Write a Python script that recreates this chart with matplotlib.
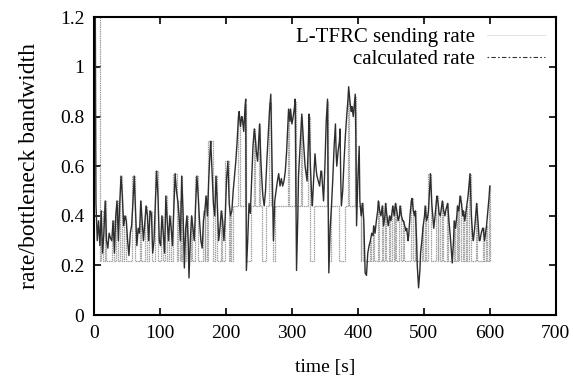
import matplotlib
matplotlib.use("Agg")
import matplotlib.pyplot as plt
from matplotlib.lines import Line2D

plt.rcParams['font.family'] = ['Liberation Serif', 'DejaVu Serif']

# L-TFRC sending rate (time [s], rate/bottleneck bandwidth)
send_t = [0, 1, 2, 3, 5, 7, 9, 11, 13, 15, 17, 19, 21, 23, 25, 27, 29, 31, 33, 35,
          37, 39, 41, 43, 45, 47, 49, 51, 53, 55, 57, 59, 61, 63, 65, 67, 69, 71, 73, 75,
          77, 79, 81, 83, 85, 87, 89, 91, 93, 95, 97, 99, 101, 103, 105, 107, 109, 111, 113, 115,
          117, 119, 121, 123, 125, 127, 129, 131, 133, 135, 137, 139, 141, 143, 144, 146, 148, 150, 152, 154,
          156, 158, 160, 162, 164, 166, 168, 170, 172, 174, 176, 177, 179, 181, 183, 185, 187, 189, 191, 193,
          195, 197, 199, 201, 203, 205, 207, 209,
          211, 213, 215, 217, 219, 220, 222, 224, 225, 227, 229, 230, 231, 233, 235, 237, 239, 241, 243, 245,
          246, 248, 250, 251, 253, 255, 256, 258, 260, 262, 264, 266, 268, 270, 271, 272, 274, 276, 278, 280,
          282, 284, 286, 288, 290, 292, 293, 295, 297, 298, 300, 302, 304, 305, 306, 307, 309, 310, 312, 314,
          315, 317, 318, 320, 322, 323, 325, 326, 328, 330, 331, 333, 335, 337, 338, 340, 342, 344, 345, 347,
          348, 350, 352, 354, 355, 356, 358, 360, 362, 364, 366, 367, 368, 370, 372, 373, 374, 375, 377, 379,
          381, 383, 385, 386, 388, 390, 391, 393, 395, 396, 397, 398, 400, 402, 403,
          405, 407, 409, 411, 413, 415, 417, 419, 421, 423, 424, 426, 428, 430, 431, 433, 435, 437, 439, 441,
          442, 444, 446, 448, 450, 452, 453, 455, 457, 459, 461, 463, 464, 466, 468, 469, 471, 473, 474, 476,
          477, 479, 481, 482, 484, 486, 487, 489, 490, 492, 494, 495, 497, 499, 501, 502, 504, 506, 507, 509,
          510, 512, 514, 515, 517, 519, 520, 522, 523, 525, 527, 528, 530, 532, 533, 535, 536, 538, 540, 542,
          543, 545, 546, 548, 550, 551, 553, 555, 557, 559, 560, 562, 564, 565, 567, 569, 570, 572, 574, 575,
          577, 579, 580, 582, 584, 585, 587, 589, 590, 592, 594, 595, 597, 599, 600]
send_v = [0.20, 1.25, 1.25, 0.45, 0.30, 0.38, 0.28, 0.42, 0.25, 0.33, 0.46, 0.30, 0.27, 0.33, 0.31, 0.30, 0.38, 0.25, 0.40, 0.46,
          0.30, 0.45, 0.56, 0.48, 0.36, 0.40, 0.38, 0.30, 0.24, 0.33, 0.36, 0.45, 0.56, 0.42, 0.28, 0.35, 0.33, 0.46, 0.38, 0.30,
          0.37, 0.44, 0.40, 0.30, 0.42, 0.41, 0.25, 0.30, 0.45, 0.58, 0.48, 0.30, 0.28, 0.40, 0.33, 0.25, 0.48, 0.38, 0.30, 0.40,
          0.35, 0.28, 0.42, 0.57, 0.50, 0.46, 0.40, 0.30, 0.56, 0.42, 0.19, 0.35, 0.40, 0.28, 0.15, 0.30, 0.40, 0.35, 0.30, 0.44,
          0.56, 0.48, 0.38, 0.30, 0.27, 0.38, 0.42, 0.48, 0.40, 0.55, 0.66, 0.70, 0.58, 0.45, 0.40, 0.56, 0.44, 0.30, 0.35, 0.42,
          0.38, 0.30, 0.40, 0.55, 0.62, 0.45, 0.40, 0.42,
          0.50, 0.56, 0.62, 0.70, 0.80, 0.82, 0.76, 0.80, 0.79, 0.74, 0.84, 0.87, 0.18, 0.30, 0.45, 0.41, 0.55, 0.68, 0.75, 0.70,
          0.66, 0.62, 0.72, 0.77, 0.62, 0.52, 0.48, 0.44, 0.50, 0.62, 0.72, 0.82, 0.89, 0.60, 0.44, 0.30, 0.46, 0.50, 0.54, 0.57,
          0.52, 0.55, 0.52, 0.54, 0.58, 0.66, 0.72, 0.83, 0.78, 0.83, 0.77, 0.80, 0.84, 0.87, 0.50, 0.18, 0.40, 0.56, 0.66, 0.76,
          0.81, 0.72, 0.68, 0.60, 0.56, 0.54, 0.70, 0.81, 0.60, 0.48, 0.44, 0.55, 0.65, 0.58, 0.56, 0.54, 0.52, 0.58, 0.58, 0.50,
          0.46, 0.60, 0.78, 0.87, 0.45, 0.17, 0.35, 0.44, 0.55, 0.68, 0.77, 0.66, 0.60, 0.66, 0.70, 0.75, 0.55, 0.44, 0.50, 0.62,
          0.72, 0.80, 0.87, 0.92, 0.86, 0.82, 0.84, 0.80, 0.86, 0.89, 0.70, 0.36, 0.55, 0.68, 0.46,
          0.40, 0.45, 0.38, 0.17, 0.16, 0.25, 0.28, 0.30, 0.33, 0.32, 0.36, 0.33, 0.38, 0.42, 0.46, 0.42, 0.40, 0.44, 0.36, 0.40,
          0.45, 0.40, 0.36, 0.40, 0.38, 0.42, 0.44, 0.40, 0.45, 0.42, 0.38, 0.40, 0.44, 0.40, 0.38, 0.38, 0.36, 0.34, 0.35, 0.30,
          0.32, 0.40, 0.46, 0.47, 0.42, 0.40, 0.42, 0.30, 0.20, 0.11, 0.18, 0.25, 0.30, 0.36, 0.40, 0.44, 0.38, 0.40, 0.42, 0.52,
          0.57, 0.45, 0.38, 0.35, 0.40, 0.46, 0.48, 0.44, 0.41, 0.40, 0.44, 0.46, 0.42, 0.40, 0.42, 0.44, 0.45, 0.38, 0.32, 0.25,
          0.21, 0.30, 0.38, 0.35, 0.40, 0.44, 0.42, 0.48, 0.45, 0.40, 0.42, 0.38, 0.42, 0.44, 0.48, 0.54, 0.57, 0.40, 0.32, 0.30,
          0.35, 0.42, 0.45, 0.38, 0.30, 0.30, 0.33, 0.35, 0.35, 0.30, 0.34, 0.36, 0.42, 0.48, 0.52]

# calculated rate, step points (value holds until next time)
calc_t = [0, 9, 11, 13, 16, 18, 28, 30, 33, 36, 39, 43, 46, 48, 58, 62, 70, 72, 78, 80,
          84, 88, 92, 97, 102, 104, 108, 110, 114, 116, 120, 126, 128, 130, 132, 134, 140, 142, 147, 149,
          153, 158, 165, 168, 169, 171, 173, 180, 184, 186, 192, 194, 198, 204, 206, 208,
          210, 219, 222, 229, 231, 238, 242, 244, 250, 252, 255, 261, 266, 269, 271, 275, 294, 296, 304, 306,
          314, 316, 325, 327, 328, 334, 353, 355, 360, 372, 380, 385, 387, 395, 397, 404,
          405, 408, 418, 420, 423, 425, 430, 432, 436, 438, 441, 443, 447, 449, 452, 454, 456, 458, 463, 465,
          468, 470, 481, 483, 486, 488, 497, 499, 501, 503, 506, 511, 519, 521, 522, 524, 527, 529, 535, 537,
          545, 547, 550, 552, 554, 556, 559, 561, 564, 566, 568, 571, 579, 581, 589, 591, 594, 596, 598, 601]
calc_v = [1.30, 0.22, 0.42, 0.22, 0.46, 0.22, 0.38, 0.22, 0.46, 0.22, 0.56, 0.22, 0.40, 0.22, 0.56, 0.22, 0.46, 0.22, 0.44, 0.22,
          0.42, 0.22, 0.58, 0.22, 0.40, 0.22, 0.48, 0.22, 0.40, 0.22, 0.57, 0.22, 0.46, 0.22, 0.56, 0.22, 0.40, 0.22, 0.40, 0.22,
          0.56, 0.22, 0.42, 0.22, 0.48, 0.22, 0.70, 0.22, 0.56, 0.22, 0.42, 0.22, 0.62, 0.22, 0.40, 0.22,
          0.44, 0.80, 0.44, 0.85, 0.22, 0.44, 0.75, 0.44, 0.77, 0.44, 0.22, 0.44, 0.86, 0.44, 0.22, 0.44, 0.83, 0.44, 0.86, 0.44,
          0.80, 0.44, 0.80, 0.44, 0.22, 0.44, 0.86, 0.22, 0.44, 0.22, 0.44, 0.90, 0.44, 0.88, 0.44, 0.22,
          0.45, 0.22, 0.30, 0.22, 0.36, 0.22, 0.46, 0.22, 0.44, 0.22, 0.45, 0.22, 0.40, 0.22, 0.44, 0.22, 0.45, 0.22, 0.44, 0.22,
          0.38, 0.22, 0.47, 0.22, 0.42, 0.22, 0.36, 0.22, 0.44, 0.22, 0.57, 0.22, 0.48, 0.22, 0.41, 0.22, 0.46, 0.22, 0.45, 0.22,
          0.38, 0.22, 0.44, 0.22, 0.48, 0.22, 0.42, 0.22, 0.44, 0.22, 0.57, 0.22, 0.45, 0.22, 0.35, 0.22, 0.36, 0.22, 0.52, 0.22]

x_ticks = [0, 100, 200, 300, 400, 500, 600, 700]
y_ticks = [0, 0.2, 0.4, 0.6, 0.8, 1.0, 1.2]
y_labels = ['0', '0.2', '0.4', '0.6', '0.8', '1', '1.2']

fig = plt.figure(figsize=(5.73, 3.82), dpi=100)
ax = fig.add_axes([0.164, 0.175, 0.806, 0.78])

ax.plot(calc_t, calc_v, drawstyle='steps-post', color='#a0a0a0', lw=0.9,
        linestyle=(0, (1.2, 0.6)))
ax.plot(send_t, send_v, color='#2e2e2e', lw=1.0)

ax.set_xlim(0, 700)
ax.set_ylim(0, 1.2)
ax.set_xticks(x_ticks)
ax.set_yticks(y_ticks)
ax.set_yticklabels(y_labels)
ax.tick_params(direction='in', length=5, width=1.2, top=True, right=True,
               labelsize=14, pad=7)
for s in ax.spines.values():
    s.set_linewidth(1.5)

ax.set_xlabel('time [s]', fontsize=14, labelpad=12)
ax.set_ylabel('rate/bottleneck bandwidth', fontsize=17, labelpad=14)

handles = [Line2D([], [], color='#dddddd', lw=0.6),
           Line2D([], [], color='#333333', lw=0.8, linestyle=(0, (1.5, 2, 4, 2)))]
ax.legend(handles, ['L-TFRC sending rate', 'calculated rate'], loc='upper right',
          markerfirst=False, frameon=False, fontsize=15, handlelength=2.8,
          borderaxespad=0.1, labelspacing=0.1, handletextpad=0.6)

fig.savefig('out.png', dpi=100)
